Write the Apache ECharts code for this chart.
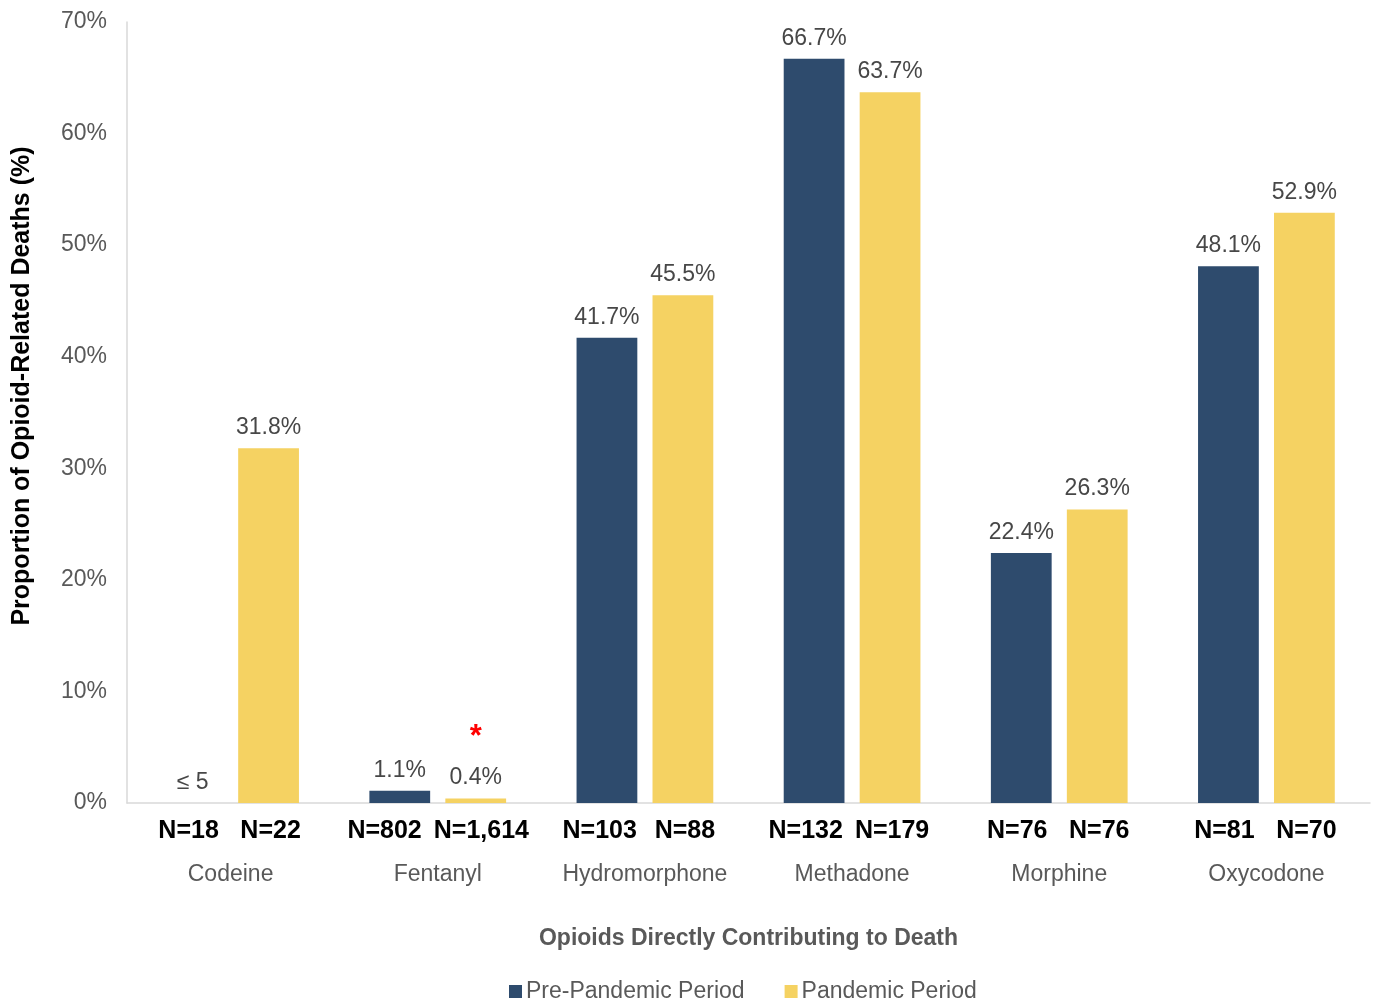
<!DOCTYPE html>
<html>
<head>
<meta charset="utf-8">
<script src="https://cdn.jsdelivr.net/npm/echarts@6/dist/echarts.min.js"></script>
<style>
  html, body { margin: 0; padding: 0; background: #fff; }
  #chart { width: 1374px; height: 1001px; }
</style>
</head>
<body>
<div id="chart"></div>
<script>
// Opioid-related deaths by opioid, before vs during the pandemic
const categories = ['Codeine', 'Fentanyl', 'Hydromorphone', 'Methadone', 'Morphine', 'Oxycodone'];
const prePandemic = [0, 1.1, 41.7, 66.7, 22.4, 48.1];
const pandemic = [31.8, 0.4, 45.5, 63.7, 26.3, 52.9];
const preCounts = ['N=18', 'N=802', 'N=103', 'N=132', 'N=76', 'N=81'];
const pandemicCounts = ['N=22', 'N=1,614', 'N=88', 'N=179', 'N=76', 'N=70'];
// small counts are suppressed and shown as a threshold instead of a percentage
const preSuppressed = [true, false, false, false, false, false];
const pandemicFlags = ['', '*', '', '', '', ''];
const yTicks = { min: 0, max: 70, interval: 10 };

const FONT = '"Liberation Sans", Arial, sans-serif';
const COUNT_FONT = 'bold 25px ' + FONT;
const NAVY = '#2E4B6D';
const GOLD = '#F5D262';
const CAT_GAP = 0.34;
const BAR_GAP = 0.25;

// text width helper so the two count labels of a pair never collide
const measureCtx = document.createElement('canvas').getContext('2d');
function textWidth(text, font) {
  measureCtx.font = font;
  return measureCtx.measureText(text).width;
}

const chart = echarts.init(document.getElementById('chart'));

const valueLabel = {
  show: true,
  position: 'top',
  distance: 9,
  color: '#474747',
  fontFamily: FONT,
  fontSize: 23
};

chart.setOption({
  animation: false,
  textStyle: { fontFamily: FONT },
  grid: { left: 127, right: 4, top: 22, bottom: 198, containLabel: false },
  legend: {
    data: ['Pre-Pandemic Period', 'Pandemic Period'],
    bottom: -7,
    left: 504,
    icon: 'rect',
    itemWidth: 13,
    itemHeight: 13,
    itemGap: 40,
    textStyle: { color: '#595959', fontSize: 23, fontFamily: FONT, padding: [0, 0, 0, -1] }
  },
  xAxis: {
    type: 'category',
    data: categories,
    axisLine: { lineStyle: { color: '#d9d9d9', width: 1.5 } },
    axisTick: { show: false },
    axisLabel: { interval: 0, margin: 60, fontSize: 23, color: '#595959', fontFamily: FONT },
    name: 'Opioids Directly Contributing to Death',
    nameLocation: 'middle',
    nameGap: 124,
    nameTextStyle: { fontSize: 23, fontWeight: 'bold', color: '#595959', fontFamily: FONT }
  },
  yAxis: {
    type: 'value',
    min: yTicks.min,
    max: yTicks.max,
    interval: yTicks.interval,
    axisLine: { show: true, lineStyle: { color: '#d9d9d9', width: 1.5 } },
    axisTick: { show: false },
    splitLine: { show: false },
    axisLabel: { formatter: '{value}%', margin: 20, fontSize: 23, color: '#595959', fontFamily: FONT }
  },
  graphic: [{
    type: 'text',
    x: 22,
    y: 386,
    rotation: Math.PI / 2,
    style: {
      text: 'Proportion of Opioid-Related Deaths (%)',
      font: 'bold 25px ' + FONT,
      fill: '#000',
      align: 'center',
      verticalAlign: 'middle'
    }
  }],
  series: [
    {
      name: 'Pre-Pandemic Period',
      type: 'bar',
      data: prePandemic,
      barCategoryGap: (CAT_GAP * 100) + '%',
      barGap: (BAR_GAP * 100) + '%',
      itemStyle: { color: NAVY },
      label: Object.assign({}, valueLabel, {
        formatter: p => preSuppressed[p.dataIndex] ? '≤ 5' : p.value.toFixed(1) + '%'
      })
    },
    {
      name: 'Pandemic Period',
      type: 'bar',
      data: pandemic,
      barCategoryGap: (CAT_GAP * 100) + '%',
      barGap: (BAR_GAP * 100) + '%',
      itemStyle: { color: GOLD },
      label: Object.assign({}, valueLabel, {
        formatter: p => {
          const txt = p.value.toFixed(1) + '%';
          return pandemicFlags[p.dataIndex] ? '{flag|' + pandemicFlags[p.dataIndex] + '}\n' + txt : txt;
        },
        rich: {
          flag: { color: '#FF0000', fontSize: 31, fontWeight: 'bold', fontFamily: FONT, height: 58, verticalAlign: 'top' }
        }
      })
    },
    {
      // sample sizes written under each bar
      name: 'counts',
      type: 'custom',
      silent: true,
      clip: false,
      z: 10,
      data: categories.map((c, i) => [i, 0]),
      encode: { x: 0, y: 1 },
      renderItem: (params, api) => {
        const idx = api.value(0);
        const base = api.coord([idx, 0]);
        const mid = base[0];
        const band = api.size([1, 0])[0];
        const w = band * (1 - CAT_GAP) / (2 + BAR_GAP);
        const off = w * (1 + BAR_GAP) / 2;
        const preW = textWidth(preCounts[idx], COUNT_FONT);
        const panW = textWidth(pandemicCounts[idx], COUNT_FONT);
        let preX = Math.min(mid - off - 4, mid - 8 - preW / 2);
        const panX = Math.max(mid + off + 2, mid - 4 + panW / 2);
        const overlap = (preX + preW / 2 + 12) - (panX - panW / 2);
        if (overlap > 0) preX -= overlap;
        const mk = (x, text) => ({
          type: 'text',
          x: x,
          y: base[1] + 28,
          style: { text: text, font: COUNT_FONT, fill: '#000', align: 'center', verticalAlign: 'middle' }
        });
        return {
          type: 'group',
          children: [mk(preX, preCounts[idx]), mk(panX, pandemicCounts[idx])]
        };
      }
    }
  ]
});
</script>
</body>
</html>
